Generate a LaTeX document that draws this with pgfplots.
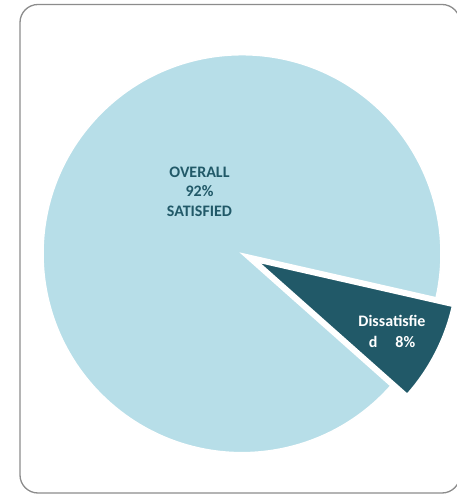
\documentclass[border=0pt]{standalone}
\usepackage{pgfplots}
\pgfplotsset{compat=1.18}
\usepackage{pgfplotstable}
\usepackage{fontspec}
\setmainfont{Carlito}
\definecolor{pielight}{HTML}{B7DEE8}
\definecolor{piedark}{HTML}{215968}
\definecolor{framegray}{HTML}{8C8C8C}
\pgfplotstableread{
label value
Satisfied 92
Dissatisfied 8
}\piedata
\begin{document}
\begin{tikzpicture}
\pgfplotstablegetelem{0}{value}\of\piedata \let\vSat\pgfplotsretval
\pgfplotstablegetelem{1}{value}\of\piedata \let\vDis\pgfplotsretval
\pgfmathsetmacro{\aStart}{-12.8}
\pgfmathsetmacro{\aMid}{\aStart-\vDis*1.8}
\pgfmathsetmacro{\aEnd}{\aStart-\vDis*3.6}
\pgfmathsetmacro{\aFull}{\aEnd-\vSat*3.6}
\path[use as bounding box] (0,0) rectangle (457bp,494bp);
\clip (0,0) rectangle (457bp,494bp);
\fill[white] (0,0) rectangle (457bp,494bp);
\begin{axis}[at={(0,0)}, anchor=south west, scale only axis,
  width=457bp, height=494bp, xmin=0, xmax=457, ymin=0, ymax=494,
  hide axis, clip=false]
\draw[framegray, line width=1.3bp, rounded corners=18bp] (axis cs:20,1) rectangle (axis cs:460,489.5);
\fill[pielight, draw=white, line width=1.5bp] (axis cs:242,240.3) -- ++(\aEnd:199bp)
  arc[start angle=\aEnd, end angle=\aFull, radius=199bp] -- cycle;
\fill[piedark, draw=white, line width=1.5bp] ([shift={(\aMid:18.4bp)}]axis cs:242,240.3) -- ++(\aStart:199bp)
  arc[start angle=\aStart, end angle=\aEnd, radius=199bp] -- cycle;
\node[text=piedark, font=\bfseries\fontsize{16bp}{19.5bp}\selectfont, align=center]
  at (axis cs:199.5,302.5) {OVERALL\\\vSat\%\\SATISFIED};
\node[text=white, font=\bfseries\fontsize{16bp}{20.5bp}\selectfont, align=center]
  at (axis cs:392,162.5) {Dissatisfie\\d\hspace{18bp}\vDis\%};
\end{axis}
\end{tikzpicture}
\end{document}
